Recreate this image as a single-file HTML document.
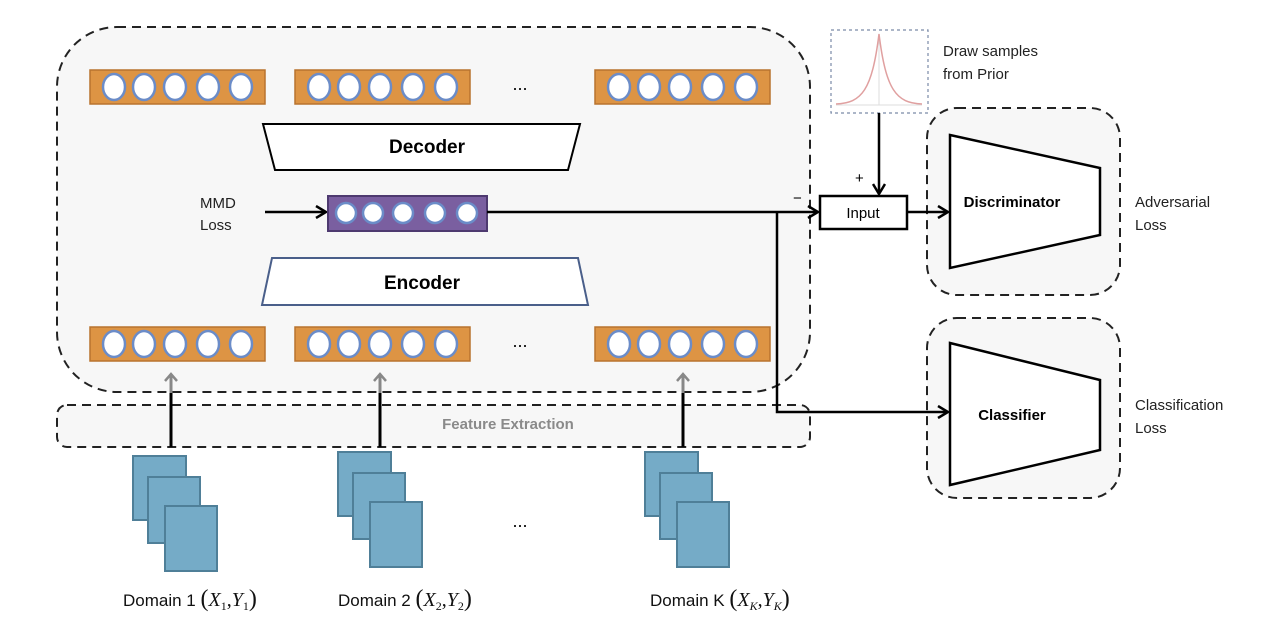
<!DOCTYPE html>
<html><head><meta charset="utf-8"><style>
body{margin:0;background:#fff}
svg{display:block;font-family:"Liberation Sans",sans-serif}
</style></head><body>
<svg width="1280" height="622" viewBox="0 0 1280 622" xmlns="http://www.w3.org/2000/svg">
<defs>
<marker id="ah" markerWidth="14" markerHeight="14" refX="12" refY="7" orient="auto" markerUnits="userSpaceOnUse"><path d="M2,1 L12,7 L2,13" fill="none" stroke="#000" stroke-width="2.5"/></marker>
<marker id="ag" markerWidth="14" markerHeight="12" refX="7" refY="2" orient="0" markerUnits="userSpaceOnUse"><path d="M1,9 L7,2 L13,9" fill="none" stroke="#888" stroke-width="2.5"/></marker>
<g id="bar">
<rect x="0" y="0" width="175" height="34" fill="#dd9444" stroke="#b8732e" stroke-width="1.5"/>
<g fill="#fff" stroke="#6b8cc8" stroke-width="2.5">
<ellipse cx="24" cy="17" rx="11" ry="13"/><ellipse cx="54" cy="17" rx="11" ry="13"/><ellipse cx="85" cy="17" rx="11" ry="13"/><ellipse cx="118" cy="17" rx="11" ry="13"/><ellipse cx="151" cy="17" rx="11" ry="13"/>
</g></g>
<g id="docs" fill="#75abc7" stroke="#4f7f98" stroke-width="2">
<rect x="0" y="0" width="53" height="64"/><rect x="15" y="21" width="52" height="66"/><rect x="32" y="50" width="52" height="65"/>
</g>
</defs>
<rect x="57" y="27" width="753" height="365" rx="60" fill="#f7f7f7" stroke="#222" stroke-width="2" stroke-dasharray="9,6"/>
<rect x="57" y="405" width="753" height="42" rx="10" fill="#f7f7f7" stroke="#222" stroke-width="2" stroke-dasharray="9,6"/>
<text x="508" y="429" font-size="15" font-weight="bold" fill="#8a8a8a" text-anchor="middle">Feature Extraction</text>
<use href="#bar" x="90" y="70"/><use href="#bar" x="295" y="70"/><use href="#bar" x="595" y="70"/>
<use href="#bar" x="90" y="327"/><use href="#bar" x="295" y="327"/><use href="#bar" x="595" y="327"/>
<text x="520" y="90" font-size="18" text-anchor="middle">...</text>
<text x="520" y="347" font-size="18" text-anchor="middle">...</text>
<polygon points="263,124 580,124 568,170 275,170" fill="#fff" stroke="#000" stroke-width="2"/>
<text x="427" y="153" font-size="19" font-weight="bold" text-anchor="middle">Decoder</text>
<polygon points="272,258 578,258 588,305 262,305" fill="#fff" stroke="#4a5f8a" stroke-width="2"/>
<text x="422" y="289" font-size="19" font-weight="bold" text-anchor="middle">Encoder</text>
<text x="200" y="208" font-size="15" fill="#222">MMD</text>
<text x="200" y="230" font-size="15" fill="#222">Loss</text>
<line x1="265" y1="212" x2="326" y2="212" stroke="#000" stroke-width="2.5" marker-end="url(#ah)"/>
<rect x="328" y="196" width="159" height="35" fill="#7a5fa0" stroke="#4e3a70" stroke-width="2"/>
<g fill="#fff" stroke="#6b8cc8" stroke-width="2.5">
<circle cx="346" cy="213" r="10"/><circle cx="373" cy="213" r="10"/><circle cx="403" cy="213" r="10"/><circle cx="435" cy="213" r="10"/><circle cx="467" cy="213" r="10"/></g>
<text x="793" y="203" font-size="15">−</text>
<text x="855" y="183" font-size="15">+</text>
<rect x="831" y="30" width="97" height="83" fill="#fff" stroke="#7a8aa8" stroke-width="1.2" stroke-dasharray="3,3"/>
<line x1="879" y1="34" x2="879" y2="105" stroke="#ddd" stroke-width="1"/>
<line x1="836" y1="105" x2="922" y2="105" stroke="#ddd" stroke-width="1"/>
<path d="M836,104 C862,103 872,90 879,34 C886,90 896,103 922,104" fill="none" stroke="#e0a0a0" stroke-width="1.5"/>
<text x="943" y="56" font-size="15" fill="#222">Draw samples</text>
<text x="943" y="79" font-size="15" fill="#222">from Prior</text>
<rect x="927" y="108" width="193" height="187" rx="30" fill="#f7f7f7" stroke="#222" stroke-width="2" stroke-dasharray="9,6"/>
<polygon points="950,135 1100,168 1100,235 950,268" fill="#fff" stroke="#000" stroke-width="2.5"/>
<text x="1012" y="207" font-size="15" font-weight="bold" text-anchor="middle">Discriminator</text>
<text x="1135" y="207" font-size="15" fill="#222">Adversarial</text>
<text x="1135" y="230" font-size="15" fill="#222">Loss</text>
<rect x="927" y="318" width="193" height="180" rx="30" fill="#f7f7f7" stroke="#222" stroke-width="2" stroke-dasharray="9,6"/>
<polygon points="950,343 1100,380 1100,450 950,485" fill="#fff" stroke="#000" stroke-width="2.5"/>
<text x="1012" y="420" font-size="15" font-weight="bold" text-anchor="middle">Classifier</text>
<text x="1135" y="410" font-size="15" fill="#222">Classification</text>
<text x="1135" y="433" font-size="15" fill="#222">Loss</text>
<line x1="487" y1="212" x2="818" y2="212" stroke="#000" stroke-width="2.5" marker-end="url(#ah)"/>
<polyline points="777,212 777,412 948,412" fill="none" stroke="#000" stroke-width="2.5" marker-end="url(#ah)"/>
<line x1="879" y1="113" x2="879" y2="194" stroke="#000" stroke-width="2.5" marker-end="url(#ah)"/>
<rect x="820" y="196" width="87" height="33" fill="#fff" stroke="#000" stroke-width="2.5"/>
<text x="863" y="218" font-size="15" text-anchor="middle">Input</text>
<line x1="907" y1="212" x2="948" y2="212" stroke="#000" stroke-width="2.5" marker-end="url(#ah)"/>
<g stroke-width="3">
<line x1="171" y1="447" x2="171" y2="393" stroke="#000"/><line x1="171" y1="393" x2="171" y2="374" stroke="#888" marker-end="url(#ag)"/>
<line x1="380" y1="447" x2="380" y2="393" stroke="#000"/><line x1="380" y1="393" x2="380" y2="374" stroke="#888" marker-end="url(#ag)"/>
<line x1="683" y1="447" x2="683" y2="393" stroke="#000"/><line x1="683" y1="393" x2="683" y2="374" stroke="#888" marker-end="url(#ag)"/>
</g>
<use href="#docs" x="133" y="456"/><use href="#docs" x="338" y="452"/><use href="#docs" x="645" y="452"/>
<text x="520" y="527" font-size="18" text-anchor="middle">...</text>
<g font-size="17" fill="#111">
<text x="123" y="606">Domain 1 <tspan font-family="Liberation Serif" font-size="24">(</tspan><tspan font-family="Liberation Serif" font-size="20" font-style="italic">X</tspan><tspan font-size="12" font-family="Liberation Serif" dy="4">1</tspan><tspan dy="-4" font-family="Liberation Serif" font-size="20">,</tspan><tspan font-family="Liberation Serif" font-size="20" font-style="italic">Y</tspan><tspan font-size="12" font-family="Liberation Serif" dy="4">1</tspan><tspan dy="-4" font-family="Liberation Serif" font-size="24">)</tspan></text>
<text x="338" y="606">Domain 2 <tspan font-family="Liberation Serif" font-size="24">(</tspan><tspan font-family="Liberation Serif" font-size="20" font-style="italic">X</tspan><tspan font-size="12" font-family="Liberation Serif" dy="4">2</tspan><tspan dy="-4" font-family="Liberation Serif" font-size="20">,</tspan><tspan font-family="Liberation Serif" font-size="20" font-style="italic">Y</tspan><tspan font-size="12" font-family="Liberation Serif" dy="4">2</tspan><tspan dy="-4" font-family="Liberation Serif" font-size="24">)</tspan></text>
<text x="650" y="606">Domain K <tspan font-family="Liberation Serif" font-size="24">(</tspan><tspan font-family="Liberation Serif" font-size="20" font-style="italic">X</tspan><tspan font-size="12" font-family="Liberation Serif" font-style="italic" dy="4">K</tspan><tspan dy="-4" font-family="Liberation Serif" font-size="20">,</tspan><tspan font-family="Liberation Serif" font-size="20" font-style="italic">Y</tspan><tspan font-size="12" font-family="Liberation Serif" font-style="italic" dy="4">K</tspan><tspan dy="-4" font-family="Liberation Serif" font-size="24">)</tspan></text>
</g>
</svg>
</body></html>
